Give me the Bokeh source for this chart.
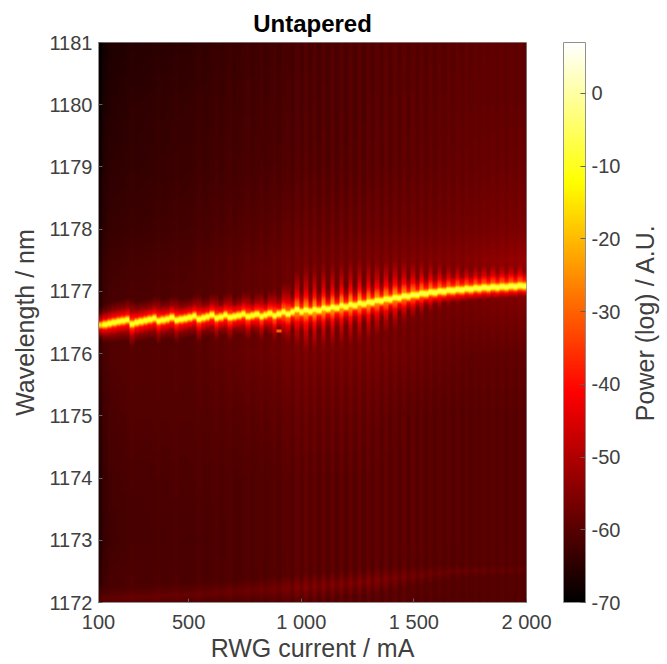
import numpy as np
from bokeh.plotting import figure
from bokeh.layouts import row
from bokeh.models import ColorBar, LinearColorMapper, FixedTicker, Range1d
from bokeh.embed import file_html
from bokeh.resources import INLINE

TITLE = "Untapered"
X_LABEL = "RWG current / mA"
Y_LABEL = "Wavelength / nm"
CB_LABEL = "Power (log) / A.U."
x_ticks = [100, 500, 1000, 1500, 2000]
x_tick_labels = ["100", "500", "1 000", "1 500", "2 000"]
y_ticks = [1172, 1173, 1174, 1175, 1176, 1177, 1178, 1179, 1180, 1181]
cb_ticks = [-70, -60, -50, -40, -30, -20, -10, 0]
cb_tick_labels = ["-70", "-60", "-50", "-40", "-30", "-20", "-10", "0"]
power_min, power_max = -70, 7

# one column of the map every 20 mA, from 100 to 2000 mA
peak_nm = [
    1176.460, 1176.468, 1176.484, 1176.500, 1176.516, 1176.527, 1176.544, 1176.476,
    1176.500, 1176.516, 1176.532, 1176.548, 1176.568, 1176.524, 1176.540, 1176.556,
    1176.581, 1176.537, 1176.552, 1176.564, 1176.581, 1176.605, 1176.556, 1176.576,
    1176.592, 1176.621, 1176.572, 1176.589, 1176.621, 1176.584, 1176.597, 1176.613,
    1176.637, 1176.597, 1176.613, 1176.632, 1176.597, 1176.621, 1176.645, 1176.608,
    1176.637, 1176.669, 1176.637, 1176.669, 1176.709, 1176.669, 1176.701, 1176.677,
    1176.709, 1176.693, 1176.733, 1176.717, 1176.749, 1176.733, 1176.773, 1176.752,
    1176.789, 1176.773, 1176.813, 1176.797, 1176.829, 1176.821, 1176.854, 1176.846,
    1176.878, 1176.870, 1176.902, 1176.894, 1176.926, 1176.918, 1176.945, 1176.942,
    1176.969, 1176.963, 1176.990, 1176.982, 1177.006, 1176.998, 1177.022, 1177.014,
    1177.033, 1177.025, 1177.046, 1177.035, 1177.057, 1177.046, 1177.065, 1177.054,
    1177.073, 1177.062, 1177.078, 1177.070, 1177.086, 1177.078, 1177.094, 1177.086,
]
peak_db = [
    -16, -9, -8, -8, -8, -8, -8, -8, -8, -8, -8, -8, -8, -8, -8, -8,
    -8, -8, -8, -8, -8, -8, -8, -8, -8, -8, -8, -8, -8, -8, -8, -8,
    -8, -8, -8, -8, -8, -8, -8, -8, -7, -7, -7, -7, -6, -7, -6, -7,
    -6, -7, -6, -7, -6, -7, -6, -7, -6, -7, -6, -7, -6, -6, -6, -6,
    -6, -6, -6, -6, -6, -6, -6, -6, -6, -6, -6, -6, -6, -6, -6, -6,
    -6, -6, -6, -6, -6, -6, -6, -6, -6, -6, -6, -6, -6, -6, -6, -6,
]
wing_db = [
    -42, -38, -37, -36, -36, -36, -35, -33, -36, -36, -36, -36, -35, -33, -36, -36,
    -35, -33, -36, -36, -36, -35, -32, -36, -36, -34, -32, -36, -34, -31, -36, -35,
    -33, -31, -36, -33, -30, -36, -32, -29, -35, -28, -27, -34, -23, -32, -21, -33,
    -21, -33, -21, -33, -21, -33, -21, -33, -21, -33, -21, -33, -21, -33, -22, -33,
    -22, -33, -22, -33, -23, -33, -24, -33, -24, -33, -25, -33, -26, -33, -27, -33,
    -27, -33, -28, -33, -28, -33, -28, -33, -28, -33, -28, -33, -28, -33, -28, -33,
]

# coarse level of the map away from the line
bg_current = [100, 130, 250, 500, 750, 1000, 1250, 1500, 1750, 2000]
bg_nm = [1172, 1173, 1174, 1175, 1176, 1177.5, 1178, 1179, 1180, 1181]
bg_db_1172 = [-62, -60.5, -60.5, -60.5, -60.5, -60.5, -60.5, -60.5, -60.5, -60.5]
bg_db_1173 = [-64, -62, -61, -61, -60.5, -60, -60, -60, -60, -60]
bg_db_1174 = [-64, -61.5, -61, -60.5, -60.5, -60, -60, -60, -60, -60]
bg_db_1175 = [-63, -61, -60, -60, -59.5, -59, -59, -60, -60, -60]
bg_db_1176 = [-62, -60, -59.5, -59.5, -58, -57, -57, -58, -59, -59]
bg_db_1177_5 = [-64, -62, -61.5, -60.5, -59, -58, -57, -56, -55, -53]
bg_db_1178 = [-65, -63, -62.5, -61.5, -60, -59, -58.5, -58, -57, -56]
bg_db_1179 = [-66, -64, -63.5, -62.5, -61.5, -61, -60.5, -59.5, -58.5, -58]
bg_db_1180 = [-67, -65, -64, -63, -62, -61.5, -61, -60, -59, -59]
bg_db_1181 = [-68, -66, -65, -64, -62.5, -62, -61, -60.5, -59.5, -59]

# fall-off of the line and of its wings, by distance from the line
core_offset_nm = [0, 0.02, 0.04, 0.055, 0.07, 0.10, 0.15, 0.3]
core_rel_db = [0, -2, -10, -18, -26, -36, -46, -70]
wing_offset_nm = [0, 0.06, 0.12, 0.2, 0.35, 0.6, 1.0, 1.6, 5]
wing_rel_db = [0, -2, -8, -18, -26, -33, -39, -44, -60]
lower_current = [100, 900, 1300, 1500, 1700, 2000]
lower_drop_db = [0, 0, -1, -5, -9, -12]

# faint second line near the bottom edge
band_current = [100, 300, 500, 700, 900, 1100, 1300, 1500, 1700, 2000]
band_nm = [1172.05, 1172.08, 1172.12, 1172.17, 1172.21, 1172.26, 1172.33, 1172.42, 1172.50, 1172.52]
band_db = [-58, -57.5, -57.5, -57.5, -57, -57, -57, -58, -58.5, -59]

# isolated bright pixels
spot_current = [900, 120]
spot_nm = [1176.37, 1176.42]
spot_db = [-30, -36]

current = np.arange(100, 2001, 20)
rows_nm = np.linspace(1172, 1181, 560)

peak = np.array(peak_nm)
wing = np.array(wing_db, dtype=float)
bg_rows = np.array([bg_db_1172, bg_db_1173, bg_db_1174, bg_db_1175, bg_db_1176,
                    bg_db_1177_5, bg_db_1178, bg_db_1179, bg_db_1180, bg_db_1181], dtype=float)
bg_cols = np.array([np.interp(current, bg_current, r) for r in bg_rows])
bg = np.array([np.interp(rows_nm, bg_nm, c) for c in bg_cols.T]).T
stripe = (wing - np.mean(wing)) * 0.13
bg = bg + stripe

off = rows_nm[:, None] - peak[None, :]
core = np.array(peak_db)[None, :] + np.interp(np.abs(off), core_offset_nm, core_rel_db)
drop = np.interp(current, lower_current, lower_drop_db)
wings = wing[None, :] + np.interp(np.abs(off), wing_offset_nm, wing_rel_db) + np.where(off < 0, drop[None, :], 0)
band_c = np.interp(current, band_current, band_nm)
band_l = np.interp(current, band_current, band_db)
band = band_l[None, :] + stripe * 1.5 - np.abs(rows_nm[:, None] - band_c[None, :]) * 16

power = np.maximum.reduce([bg, core, wings, band])
for c, n, d in zip(spot_current, spot_nm, spot_db):
    i = int(np.argmin(np.abs(current - c)))
    j = int(np.argmin(np.abs(rows_nm - n)))
    power[j - 1:j + 2, i] = np.maximum(power[j - 1:j + 2, i], d)
power = np.repeat(power, 3, axis=1)

# MATLAB "hot" colormap
t = np.linspace(0, 1, 256)
r = np.clip(t / 0.375, 0, 1)
g = np.clip((t - 0.375) / 0.375, 0, 1)
b = np.clip((t - 0.75) / 0.25, 0, 1)
palette = ["#%02x%02x%02x" % (int(a * 255), int(c * 255), int(d * 255)) for a, c, d in zip(r, g, b)]
mapper = LinearColorMapper(palette=palette, low=power_min, high=power_max)

TEXT = "#404040"
FONT = "Liberation Sans"
p = figure(width=623, height=664, output_backend="svg", toolbar_location=None,
           x_range=Range1d(100, 2000), y_range=Range1d(1172, 1181),
           title=TITLE, min_border_left=98, min_border_right=97, min_border_top=42, min_border_bottom=62)
p.image(image=[power], x=100, y=1172, dw=1900, dh=9, color_mapper=mapper)
p.grid.visible = False
p.title.align = "center"
p.title.text_font = FONT
p.title.text_font_size = "24px"
p.title.text_font_style = "bold"
p.title.text_color = "black"
p.title.standoff = 12
p.outline_line_color = "#909090"

for ax in (p.xaxis[0], p.yaxis[0]):
    ax.major_label_text_font = FONT
    ax.major_label_text_font_size = "20px"
    ax.major_label_text_color = TEXT
    ax.axis_label_text_font = FONT
    ax.axis_label_text_font_size = "25px"
    ax.axis_label_text_font_style = "normal"
    ax.axis_label_text_color = TEXT
    ax.axis_line_color = "#909090"
    ax.major_tick_line_color = "#606060"
    ax.major_tick_in = 4
    ax.major_tick_out = 0
    ax.minor_tick_in = 0
    ax.minor_tick_out = 0
p.xaxis[0].ticker = FixedTicker(ticks=x_ticks)
p.xaxis[0].major_label_overrides = dict(zip(x_ticks, x_tick_labels))
p.xaxis[0].axis_label = X_LABEL
p.xaxis[0].major_label_standoff = 8
p.xaxis[0].axis_label_standoff = -2
p.yaxis[0].ticker = FixedTicker(ticks=y_ticks)
p.yaxis[0].axis_label = Y_LABEL
p.yaxis[0].major_label_standoff = 6
p.yaxis[0].axis_label_standoff = 7

cb = ColorBar(color_mapper=mapper, width=22, height=560, location=(37, 0), padding=0, margin=0,
              ticker=FixedTicker(ticks=cb_ticks), major_label_overrides=dict(zip(cb_ticks, cb_tick_labels)),
              major_label_text_font=FONT,
              major_label_text_font_size="20px", major_label_text_color=TEXT,
              major_tick_line_color="#606060", major_tick_in=5, major_tick_out=0, minor_tick_line_color=None,
              bar_line_color="#909090", label_standoff=6, background_fill_color=None, border_line_color=None)
p.add_layout(cb, "right")

# narrow neighbour that only holds the colour bar's rotated label
q = figure(width=44, height=664, output_backend="svg", toolbar_location=None,
           x_range=Range1d(0, 1), y_range=Range1d(0, 1),
           min_border_left=35, min_border_right=0, min_border_top=42, min_border_bottom=62)
q.grid.visible = False
q.xaxis.visible = False
q.outline_line_color = None
side = q.yaxis[0]
side.ticker = FixedTicker(ticks=[])
side.axis_line_color = None
side.major_tick_line_color = None
side.minor_tick_line_color = None
side.axis_label = CB_LABEL
side.axis_label_text_font = FONT
side.axis_label_text_font_size = "25px"
side.axis_label_text_font_style = "normal"
side.axis_label_text_color = TEXT
side.axis_label_standoff = 0

page = row(p, q, spacing=0)
open("out.html", "w").write(file_html(page, INLINE))
